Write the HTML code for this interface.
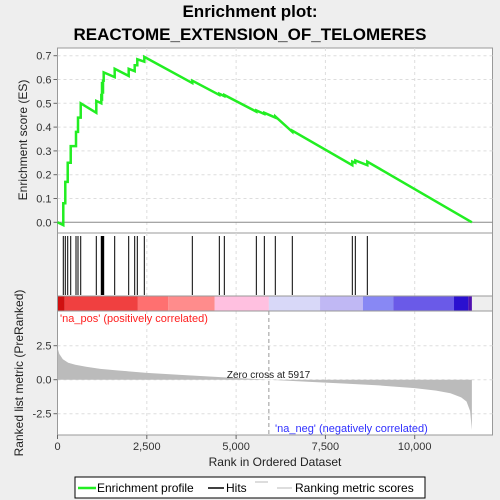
<!DOCTYPE html>
<html><head><meta charset="utf-8"><style>
body{margin:0;background:#eeeeee;}
svg{display:block;font-family:"Liberation Sans",sans-serif;}
</style></head><body>
<svg id="c" width="500" height="500" xmlns="http://www.w3.org/2000/svg">
<rect width="500" height="500" fill="#eeeeee"/>
<text x="250" y="17" text-anchor="middle" font-size="17" font-weight="bold">Enrichment plot:</text>
<text x="250" y="40" text-anchor="middle" font-size="17" font-weight="bold">REACTOME_EXTENSION_OF_TELOMERES</text>
<g id="g"></g>
</svg>
<script>
const hitRanks=[162,218,286,370,518,574,650,1086,1226,1246,1274,1293,1601,1993,2161,2234,2430,3774,4530,4670,5566,5790,6097,6573,8253,8337,8673];
const esBefore=[-0.012,0.08,0.17,0.25,0.32,0.38,0.44,0.46,0.50,0.51,0.54,0.59,0.61,0.615,0.635,0.66,0.675,0.585,0.535,0.53,0.465,0.455,0.44,0.38,0.24,0.25,0.24];
const esAfter=[0.08,0.17,0.25,0.32,0.38,0.44,0.50,0.51,0.54,0.59,0.60,0.63,0.645,0.645,0.66,0.685,0.695,0.595,0.54,0.535,0.47,0.46,0.445,0.385,0.255,0.26,0.255];
const totalRanks=11600;
const metricRanks=[0,50,150,300,500,800,1200,1700,2500,3500,4500,5917,7000,8000,9000,10000,10600,11000,11300,11450,11550,11600];
const metricValues=[2.35,1.9,1.5,1.25,1.1,0.95,0.8,0.68,0.5,0.35,0.2,0,-0.15,-0.28,-0.42,-0.62,-0.8,-1.0,-1.3,-1.6,-2.3,-3.7];
const esTicks=[0,0.1,0.2,0.3,0.4,0.5,0.6,0.7];
const metricTicks=[2.5,0,-2.5];
const xTicks=[0,2500,5000,7500,10000];
const xTickLabels=["0","2,500","5,000","7,500","10,000"];

const L=57.5,R=492.5;
const X=r=>L+r*0.035722;
const YE=v=>222.3-v*238;
const YM=v=>379.7-v*13.6;
const g=document.getElementById('g');
const NS='http://www.w3.org/2000/svg';
function mk(t,a,name,txt){const e=document.createElementNS(NS,t);for(const k in a)e.setAttribute(k,a[k]);


if(txt!==undefined)e.textContent=txt;g.appendChild(e);return e;}
// panels
mk('rect',{x:L,y:48,width:R-L,height:185,fill:'#fff',stroke:'#999'},'es-panel');
mk('rect',{x:L,y:233,width:R-L,height:63,fill:'#fff',stroke:'#999'},'hits-panel');
mk('rect',{x:L,y:311,width:R-L,height:124,fill:'#fff',stroke:'#999'},'metric-panel');
// grid
xTicks.forEach((t,i)=>{ if(i>0){
mk('line',{x1:X(t),x2:X(t),y1:48,y2:233,stroke:'#ddd','stroke-dasharray':'3,3'},'es-grid-x');
mk('line',{x1:X(t),x2:X(t),y1:233,y2:296,stroke:'#ddd','stroke-dasharray':'3,3'},'hits-grid-x');
mk('line',{x1:X(t),x2:X(t),y1:311,y2:435,stroke:'#ddd','stroke-dasharray':'3,3'},'metric-grid-x');}
mk('line',{x1:X(t),x2:X(t),y1:435,y2:439,stroke:'#666'},'x-tick');
mk('text',{x:X(t),y:450,'text-anchor':'middle','font-size':11,fill:'#333'},'x-tick-label',xTickLabels[i]);
});
esTicks.forEach(t=>{
mk('line',{x1:L,x2:R,y1:YE(t),y2:YE(t),stroke:t===0?'#888':'#ddd','stroke-dasharray':t===0?'':'3,3'},'es-grid-y');
mk('line',{x1:L-4,x2:L,y1:YE(t),y2:YE(t),stroke:'#666'},'es-tick');
mk('text',{x:L-6,y:YE(t)+4,'text-anchor':'end','font-size':11,fill:'#333'},'es-tick-label',t.toFixed(1));
});
metricTicks.forEach(t=>{
mk('line',{x1:L,x2:R,y1:YM(t),y2:YM(t),stroke:'#ddd','stroke-dasharray':'3,3'},'metric-grid-y');
mk('line',{x1:L-4,x2:L,y1:YM(t),y2:YM(t),stroke:'#666'},'metric-tick');
mk('text',{x:L-6,y:YM(t)+4,'text-anchor':'end','font-size':11,fill:'#333'},'metric-tick-label',t.toFixed(1));
});
// color bar
const segs=[[0,200,'#d01010','#e83030'],[200,2250,'#f04040','#ff6060'],[2250,3100,'#ff7070','#ff7878'],[3100,4400,'#ff8c8c','#ff9090'],[4400,5917,'#ffc0e0','#ffc0e0'],[5917,7350,'#d8d8f8','#d8d8f8'],[7350,8550,'#c0b8f4','#c0b8f4'],[8550,9400,'#8888f4','#8888f4'],[9400,11100,'#6a5ae8','#6a5ae8'],[11100,11500,'#2a10d0','#2a10d0'],[11500,11600,'#5010b0','#5010b0']];
segs.forEach((s,i)=>{mk('rect',{x:X(s[0]),y:296,width:X(s[1])-X(s[0]),height:15,fill:s[2]},'color-bar-segment');});
mk('rect',{x:L,y:296,width:R-L,height:15,fill:'none',stroke:'#999'},'color-bar-border');
// hits
hitRanks.forEach(r=>{mk('line',{x1:X(r),x2:X(r),y1:236,y2:295,stroke:'#000','stroke-width':1},'hit-line');});
// metric area
let d='M'+X(0)+','+YM(0);
metricRanks.forEach((r,i)=>{d+=' L'+X(r)+','+YM(metricValues[i]);});
d+=' L'+X(totalRanks)+','+YM(0)+' Z';
mk('path',{d:d,fill:'#bbbbbb'},'ranking-metric-area');
mk('line',{x1:X(5917),x2:X(5917),y1:311,y2:435,stroke:'#999','stroke-dasharray':'4,3'},'zero-cross-line');
mk('text',{x:X(5917)-42,y:378,'font-size':10,fill:'#222'},'zero-cross-label','Zero cross at 5917');
mk('text',{x:60,y:322,'font-size':11,fill:'#ff2020'},'na-pos-label',"'na_pos' (positively correlated)");
mk('text',{x:275,y:432,'font-size':11,fill:'#3030ff'},'na-neg-label',"'na_neg' (negatively correlated)");
// ES line
let p='M'+X(0)+','+YE(0);
hitRanks.forEach((r,i)=>{p+=' L'+X(r)+','+YE(esBefore[i])+' L'+X(r)+','+YE(esAfter[i]);});
p+=' L'+X(totalRanks)+','+YE(0);
mk('path',{d:p,fill:'none',stroke:'#22ee22','stroke-width':2.5},'enrichment-profile-line');
// axis titles
mk('text',{x:0,y:0,'font-size':12,fill:'#222','text-anchor':'middle',transform:'translate(27,140) rotate(-90)'},'es-axis-title','Enrichment score (ES)');
mk('text',{x:0,y:0,'font-size':12,fill:'#222','text-anchor':'middle',transform:'translate(23,373) rotate(-90)'},'metric-axis-title','Ranked list metric (PreRanked)');
mk('text',{x:275,y:466,'font-size':12,fill:'#222','text-anchor':'middle'},'x-axis-title','Rank in Ordered Dataset');
// legend
mk('rect',{x:75,y:477,width:350,height:21,fill:'#fff',stroke:'#000'},'legend-box');
mk('line',{x1:78,x2:96,y1:488,y2:488,stroke:'#22ee22','stroke-width':2.5},'legend-enrichment-swatch');
mk('text',{x:97,y:492,'font-size':12},'legend-enrichment-label','Enrichment profile');
mk('line',{x1:208,x2:224,y1:488,y2:488,stroke:'#000','stroke-width':1.5},'legend-hits-swatch');
mk('text',{x:226,y:492,'font-size':12},'legend-hits-label','Hits');
mk('line',{x1:255,x2:268,y1:482,y2:482,stroke:'#bbb'},'legend-metric-swatch-1');
mk('line',{x1:277,x2:292,y1:488,y2:488,stroke:'#bbb'},'legend-metric-swatch-2');
mk('text',{x:295,y:492,'font-size':12},'legend-metric-label','Ranking metric scores');
</script>
</body></html>
